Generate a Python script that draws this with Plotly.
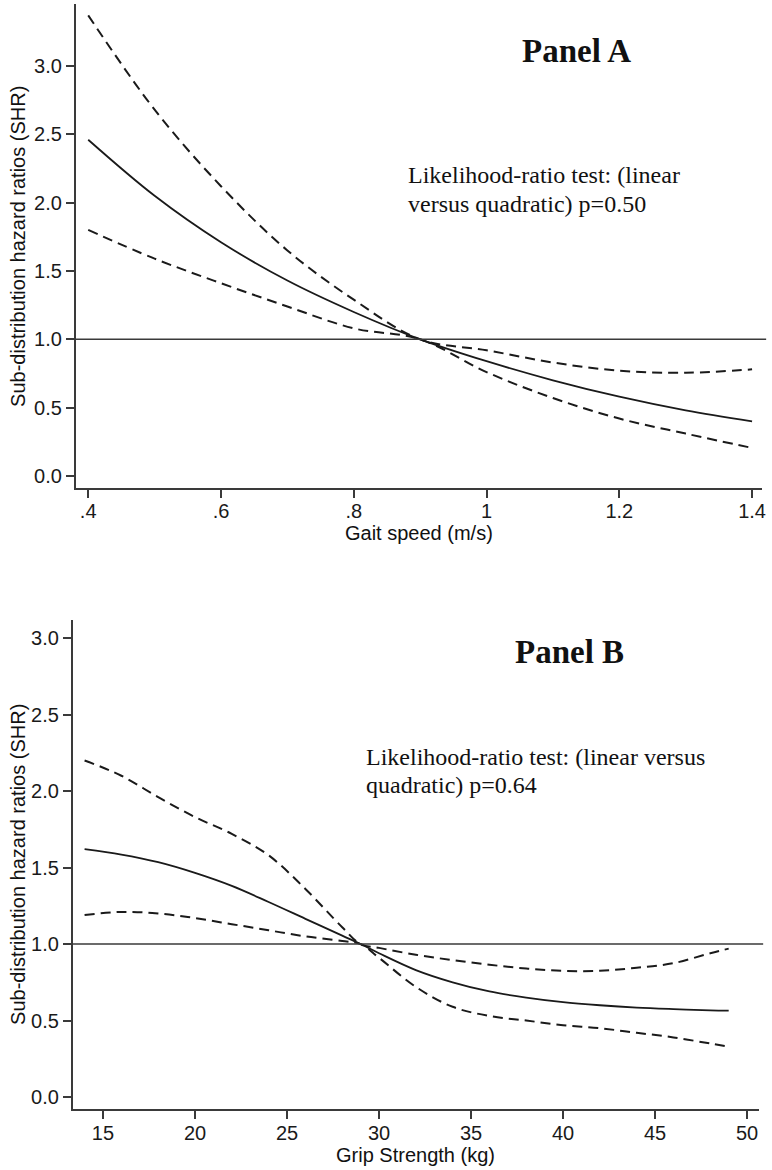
import plotly.graph_objects as go

# Panel A: gait speed (m/s)
gait = [0.40, 0.50, 0.60, 0.70, 0.80, 0.90, 1.00, 1.10, 1.20, 1.30, 1.40]
shr_a = [2.46, 2.05, 1.71, 1.43, 1.20, 1.00, 0.84, 0.70, 0.58, 0.48, 0.40]
upper_a = [3.37, 2.68, 2.12, 1.65, 1.29, 1.00, 0.92, 0.83, 0.77, 0.755, 0.78]
lower_a = [1.80, 1.59, 1.41, 1.24, 1.08, 1.00, 0.76, 0.57, 0.42, 0.31, 0.205]
gait_ticks = [0.4, 0.6, 0.8, 1.0, 1.2, 1.4]
gait_ticktext = ['.4', '.6', '.8', '1', '1.2', '1.4']

# Panel B: grip strength (kg)
grip = [14, 16, 18, 20, 22, 24, 26, 28, 29, 30, 32, 34, 36, 38, 40, 42, 44, 46, 48, 49]
shr_b = [1.62, 1.585, 1.535, 1.465, 1.38, 1.275, 1.165, 1.055, 1.00, 0.94, 0.83, 0.75, 0.69, 0.65,
         0.62, 0.60, 0.585, 0.575, 0.567, 0.565]
upper_b = [2.20, 2.10, 1.96, 1.83, 1.72, 1.58, 1.36, 1.11, 1.00, 0.975, 0.93, 0.895, 0.865, 0.84,
           0.825, 0.825, 0.845, 0.875, 0.94, 0.97]
lower_b = [1.19, 1.21, 1.20, 1.17, 1.13, 1.09, 1.05, 1.02, 1.00, 0.91, 0.72, 0.59, 0.53, 0.50,
           0.47, 0.45, 0.42, 0.39, 0.35, 0.33]
grip_ticks = [15, 20, 25, 30, 35, 40, 45, 50]

shr_ticks = [0.0, 0.5, 1.0, 1.5, 2.0, 2.5, 3.0]

W, H = 772, 1170
SANS = 'Liberation Sans, Arial, sans-serif'
SERIF = 'Liberation Serif, Times New Roman, serif'
INK = '#1a1a1a'
AXC = '#3a3a3a'


def px_x(p):
	return p / W


def px_y(p):
	return 1 - p / H


fig = go.Figure()

for xs, mid, up, lo, xa, ya in [
	(gait, shr_a, upper_a, lower_a, 'x', 'y'),
	(grip, shr_b, upper_b, lower_b, 'x2', 'y2'),
]:
	fig.add_trace(go.Scatter(x=xs, y=up, mode='lines', line=dict(color=INK, width=2, dash='10px,6px', shape='spline'),
							 xaxis=xa, yaxis=ya, showlegend=False))
	fig.add_trace(go.Scatter(x=xs, y=lo, mode='lines', line=dict(color=INK, width=2, dash='10px,6px', shape='spline'),
							 xaxis=xa, yaxis=ya, showlegend=False))
	fig.add_trace(go.Scatter(x=xs, y=mid, mode='lines', line=dict(color=INK, width=1.8, shape='spline'),
							 xaxis=xa, yaxis=ya, showlegend=False))
	# reference line at SHR = 1
	fig.add_shape(type='line', xref=xa + ' domain', yref=ya, x0=0, x1=1.006, y0=1, y1=1,
				  line=dict(color=AXC, width=1.6))

axis_common = dict(
	showline=True, linecolor=AXC, linewidth=1.5,
	ticks='outside', ticklen=8, tickwidth=1.5, tickcolor=AXC,
	showgrid=False, zeroline=False,
	tickfont=dict(family=SANS, size=20, color=INK),
)

fig.update_layout(
	width=W, height=H,
	margin=dict(l=0, r=0, t=0, b=0),
	paper_bgcolor='white', plot_bgcolor='white',
	xaxis=dict(axis_common, domain=[px_x(76), px_x(766)], range=[0.381, 1.415],
			   tickvals=gait_ticks, ticktext=gait_ticktext, ticklabelstandoff=-4, anchor='y'),
	yaxis=dict(axis_common, domain=[px_y(488), px_y(4)], range=[-0.088, 3.453],
			   tickvals=shr_ticks, tickformat='.1f', anchor='x'),
	xaxis2=dict(axis_common, domain=[px_x(73), px_x(763)], range=[13.35, 50.65],
				tickvals=grip_ticks, ticklabelstandoff=-3, anchor='y2'),
	yaxis2=dict(axis_common, domain=[px_y(1109), px_y(620)], range=[-0.078, 3.118],
				tickvals=shr_ticks, tickformat='.1f', anchor='x2'),
)


def note(text, x, y, size, family, xanchor='left', bold=False, angle=0):
	if bold:
		text = '<b>' + text + '</b>'
	fig.add_annotation(text=text, xref='paper', yref='paper', x=px_x(x), y=px_y(y),
					   xanchor=xanchor, yanchor='middle', showarrow=False, textangle=angle,
					   font=dict(family=family, size=size, color='#111111'))


# panel titles and test notes
note('Panel A', 579, 51, 33, SERIF, xanchor='center', bold=True)
note('Likelihood-ratio test: (linear', 408, 175, 24, SERIF)
note('versus quadratic) p=0.50', 408, 204, 24, SERIF)

note('Panel B', 572, 652, 33, SERIF, xanchor='center', bold=True)
note('Likelihood-ratio test: (linear versus', 366, 757, 24, SERIF)
note('quadratic) p=0.64', 366, 785, 24, SERIF)

# axis titles
note('Gait speed (m/s)', 421, 533, 20, SANS, xanchor='center')
note('Grip Strength (kg)', 418, 1155, 20, SANS, xanchor='center')
note('Sub-distribution hazard ratios (SHR)', 18, 246, 20, SANS, xanchor='center', angle=-90)
note('Sub-distribution hazard ratios (SHR)', 18, 864, 20, SANS, xanchor='center', angle=-90)

# the page template keeps the browser's default 8px body margin; drop it
fig.write_html('out.html', config={'displayModeBar': False},
			   post_script="document.body.style.margin='0px';")
